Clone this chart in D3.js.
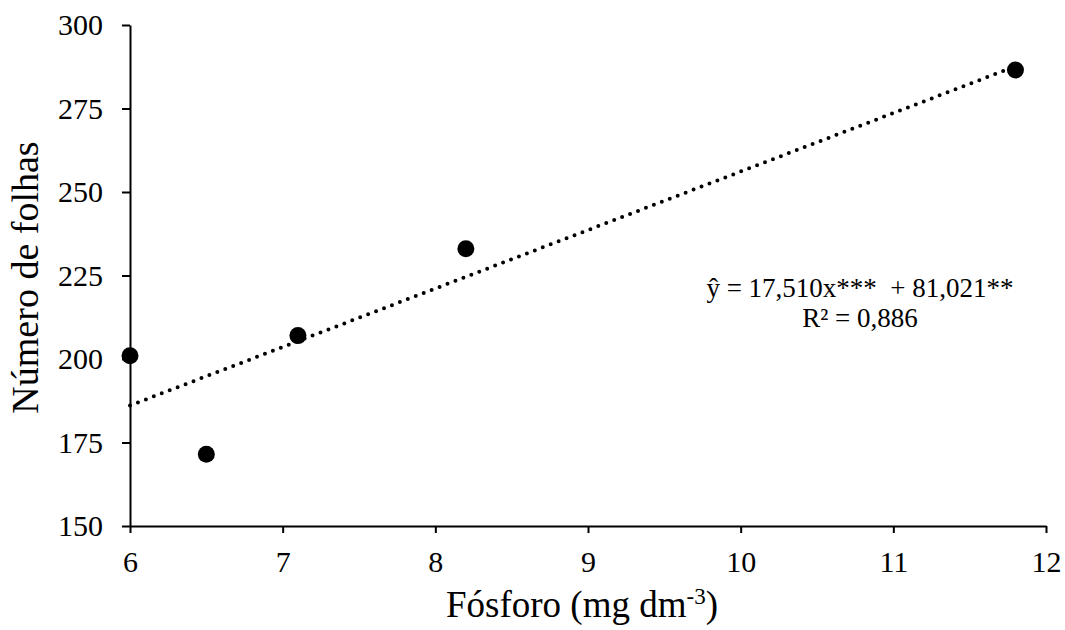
<!DOCTYPE html>
<html>
<head>
<meta charset="utf-8">
<script src="https://cdn.jsdelivr.net/npm/d3@7"></script>
<style>
  body { margin: 0; background: #fff; }
  svg text { font-family: "Liberation Serif", "Times New Roman", serif; fill: #000; }
</style>
</head>
<body>
<svg id="chart" width="1065" height="630"></svg>
<script>
// dados
var fosforo = [6.0, 6.5, 7.1, 8.2, 11.8]
var folhas  = [201, 171.5, 207, 233, 286.5]
var xTicks = [6, 7, 8, 9, 10, 11, 12]
var yTicks = [150, 175, 200, 225, 250, 275, 300]
var coefA = 17.510, coefB = 81.021   // y = a*x + b
var trendRange = [6, 11.8]

var svg = d3.select("#chart")
var margin = {left: 130, right: 19, top: 25, bottom: 104}
var W = 1065, H = 630

var x = d3.scaleLinear().domain([6, 12]).range([margin.left, W - margin.right])
var y = d3.scaleLinear().domain([150, 300]).range([H - margin.bottom, margin.top])

// eixo y
var gy = svg.append("g").attr("transform", "translate(" + margin.left + ",0)")
  .call(d3.axisLeft(y).tickValues(yTicks).tickFormat(d3.format("d")).tickSize(8).tickSizeOuter(0).tickPadding(19))
gy.select(".domain").attr("stroke-width", 2)
gy.selectAll(".tick line").attr("stroke-width", 2)
gy.selectAll("text").style("font-size", "30px").attr("font-family", null)

// eixo x
var gx = svg.append("g").attr("transform", "translate(0," + (H - margin.bottom) + ")")
  .call(d3.axisBottom(x).tickValues(xTicks).tickFormat(d3.format("d")).tickSize(7).tickPadding(18).tickSizeOuter(0))
gx.select(".domain").attr("stroke-width", 2)
gx.selectAll(".tick line").attr("stroke-width", 2)
gx.selectAll("text").style("font-size", "30px").attr("font-family", null)

// linha de tendencia
var trend = trendRange.map(function(v){ return [v, coefA * v + coefB] })
svg.append("path")
  .datum(trend)
  .attr("d", d3.line().x(function(d){ return x(d[0]) }).y(function(d){ return y(d[1]) }))
  .attr("fill", "none")
  .attr("stroke", "#000")
  .attr("stroke-width", 4)
  .attr("stroke-linecap", "round")
  .attr("stroke-dasharray", "0,8.5")

// pontos
svg.selectAll("circle.pt")
  .data(fosforo)
  .enter().append("circle")
  .attr("class", "pt")
  .attr("cx", function(d){ return x(d) })
  .attr("cy", function(d, i){ return y(folhas[i]) })
  .attr("r", 8.5)
  .attr("fill", "#000")

// equacao
svg.append("text")
  .attr("x", 860).attr("y", 297)
  .attr("text-anchor", "middle")
  .style("font-size", "27px")
  .style("white-space", "pre")
  .text("ŷ = 17,510x***  + 81,021**")
svg.append("text")
  .attr("x", 860).attr("y", 327)
  .attr("text-anchor", "middle")
  .style("font-size", "27px")
  .text("R² = 0,886")

// titulos
svg.append("text")
  .attr("transform", "translate(38," + ((margin.top + H - margin.bottom) / 2 + 2) + ")rotate(-90)")
  .attr("text-anchor", "middle")
  .style("font-size", "38px")
  .text("Número de folhas")

var xt = svg.append("text")
  .attr("x", 582)
  .attr("y", 617)
  .attr("text-anchor", "middle")
  .style("font-size", "37px")
xt.append("tspan").text("Fósforo (mg dm")
xt.append("tspan").attr("dy", -13).style("font-size", "23px").text("-3")
xt.append("tspan").attr("dy", 13).text(")")
</script>
</body>
</html>
